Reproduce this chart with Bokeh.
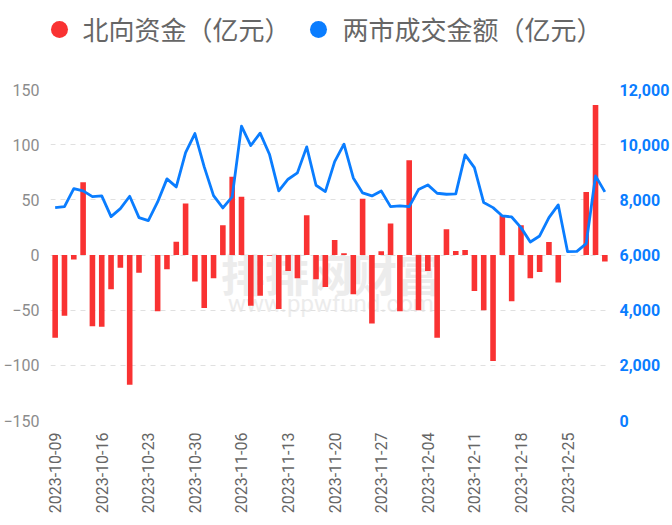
import math
from bokeh.plotting import figure
from bokeh.layouts import column
from bokeh.models import (Range1d, LinearAxis, FixedTicker, NumeralTickFormatter,
                          ColumnDataSource)
from bokeh.core.properties import value
from bokeh.embed import file_html
from bokeh.resources import INLINE

nan = float("nan")

dates = [
    "2023-10-09", "2023-10-10", "2023-10-11", "2023-10-12", "2023-10-13",
    "2023-10-16", "2023-10-17", "2023-10-18", "2023-10-19", "2023-10-20",
    "2023-10-23", "2023-10-24", "2023-10-25", "2023-10-26", "2023-10-27",
    "2023-10-30", "2023-10-31", "2023-11-01", "2023-11-02", "2023-11-03",
    "2023-11-06", "2023-11-07", "2023-11-08", "2023-11-09", "2023-11-10",
    "2023-11-13", "2023-11-14", "2023-11-15", "2023-11-16", "2023-11-17",
    "2023-11-20", "2023-11-21", "2023-11-22", "2023-11-23", "2023-11-24",
    "2023-11-27", "2023-11-28", "2023-11-29", "2023-11-30", "2023-12-01",
    "2023-12-04", "2023-12-05", "2023-12-06", "2023-12-07", "2023-12-08",
    "2023-12-11", "2023-12-12", "2023-12-13", "2023-12-14", "2023-12-15",
    "2023-12-18", "2023-12-19", "2023-12-20", "2023-12-21", "2023-12-22",
    "2023-12-25", "2023-12-26", "2023-12-27", "2023-12-28", "2023-12-29",
]

northbound = [
    -75, -55, -4, 66, -64.5,
    -65, -31, -11.5, -117.6, -16,
    nan, -51, -13, 12, 46.7,
    -24, -48, -21, 27, 71,
    52.7, -46, -37, -0.7, -49,
    -14.5, -21, 36, -22, -29,
    13.6, 1.5, -35.5, 51, -62,
    3.3, 28.5, -51, 85.8, -50,
    -14.5, -75, 23.3, 3.6, 4.5,
    -32.7, -50, -96, 36, -42,
    27, -21, -15.5, 11.8, -25,
    nan, nan, 57, 136, -5.8,
]

turnover = [
    7718, 7755, 8408, 8323, 8118,
    8142, 7392, 7682, 8130, 7355,
    7246, 7924, 8759, 8468, 9715,
    10404, 9194, 8154, 7706, 8105,
    10671, 9969, 10417, 9654, 8323,
    8747, 8977, 9920, 8529, 8299,
    9388, 10017, 8795, 8251, 8142,
    8323, 7755, 7779, 7755, 8372,
    8541, 8239, 8202, 8214, 9630,
    9170, 7900, 7718, 7416, 7379,
    6992, 6472, 6690, 7355, 7815,
    6121, 6133, 6411, 8868, 8287,
]

left_ticks = [-150, -100, -50, 0, 50, 100, 150]
right_ticks = [0, 2000, 4000, 6000, 8000, 10000, 12000]
x_tick_idx = list(range(0, len(dates), 5))

series_names = ["北向资金（亿元）", "两市成交金额（亿元）"]
series_colors = ["#f93232", "#0a7dff"]
watermark_cn = "排排网财富"
watermark_en = "www.ppwfund.com"

RED, BLUE = series_colors

W = 672
LEG_H = 60
MAIN_H = 525 - LEG_H
BORDER_L = 50
BORDER_R = 63

# ---- legend strip (pixel space, full width frame) ----
leg_marker_x = [59, 318]
leg_text_x = [82, 342]
leg_marker_y = [29, 29]
leg_text_y = [28, 28]

lg = figure(width=W, height=LEG_H, output_backend="svg", toolbar_location=None,
            x_range=Range1d(0, W), y_range=Range1d(LEG_H, 0),
            x_axis_location=None, y_axis_location=None, min_border=0)
lg.frame_align = False
lg.outline_line_color = None
lg.grid.visible = False
lg.scatter(x=leg_marker_x, y=leg_marker_y, marker="circle", size=17,
           fill_color=series_colors, line_color=None)
lg.text(x=leg_text_x, y=leg_text_y, text=series_names,
        text_font=value("Noto Sans CJK SC"), text_font_size="26px",
        text_color="#666666", text_align="left", text_baseline="middle")

# ---- main chart ----
idx = list(range(len(dates)))
src = ColumnDataSource(dict(x=idx, nb=northbound, to=turnover))

p = figure(width=W, height=MAIN_H, output_backend="svg", toolbar_location=None,
           x_range=Range1d(-0.5, len(dates) - 0.5), y_range=Range1d(-150, 150),
           min_border_left=BORDER_L, min_border_right=BORDER_R,
           min_border_top=89 - LEG_H, min_border_bottom=105)
p.frame_align = False
p.outline_line_color = None
p.background_fill_color = "white"
p.extra_y_ranges = {"vol": Range1d(0, 12000)}

# watermark
p.text(x=[29.6], y=[-16], text=[watermark_cn], text_font=value("Noto Sans CJK SC"),
       text_font_size="44px", text_font_style="bold", text_color="#ececec",
       text_align="center", text_baseline="middle", level="underlay")
p.text(x=[29.6], y=[-44], text=[watermark_en], text_font=value("Roboto"),
       text_font_size="24px", text_color="#ececec",
       text_align="center", text_baseline="middle", level="underlay")

p.vbar(x="x", top="nb", bottom=0, width=0.6, source=src, fill_color=RED, line_color=None)
p.line(x="x", y="to", source=src, y_range_name="vol", line_color=BLUE, line_width=2.8,
       line_join="round")

# grid
p.xgrid.visible = False
p.ygrid.ticker = FixedTicker(ticks=left_ticks)
p.ygrid.grid_line_color = "#e0e0e0"
p.ygrid.grid_line_dash = "5 5"
p.ygrid.grid_line_width = 1


def clean(ax):
    ax.axis_line_color = None
    ax.major_tick_line_color = None
    ax.minor_tick_line_color = None
    ax.major_tick_out = 0
    ax.major_tick_in = 0
    ax.minor_tick_out = 0
    ax.minor_tick_in = 0


# left axis
ya = p.yaxis[0]
ya.ticker = FixedTicker(ticks=left_ticks)
clean(ya)
ya.major_label_text_font = "Roboto"
ya.major_label_text_font_size = "16px"
ya.major_label_text_color = "#8c8c8c"
ya.major_label_standoff = 11

# right axis
ra = LinearAxis(y_range_name="vol", ticker=FixedTicker(ticks=right_ticks),
                formatter=NumeralTickFormatter(format="0,0"))
clean(ra)
ra.major_label_text_font = "Roboto"
ra.major_label_text_font_size = "16px"
ra.major_label_text_font_style = "bold"
ra.major_label_text_color = BLUE
ra.major_label_standoff = 10
p.add_layout(ra, "right")

# x axis
xa = p.xaxis[0]
xa.ticker = FixedTicker(ticks=x_tick_idx)
xa.major_label_overrides = {i: dates[i] for i in x_tick_idx}
xa.major_label_orientation = math.pi / 2
clean(xa)
xa.major_label_text_font = "Roboto"
xa.major_label_text_font_size = "16px"
xa.major_label_text_color = "#666666"
xa.major_label_standoff = 12

layout = column(lg, p, spacing=0)
open("out.html", "w").write(file_html(layout, INLINE))
